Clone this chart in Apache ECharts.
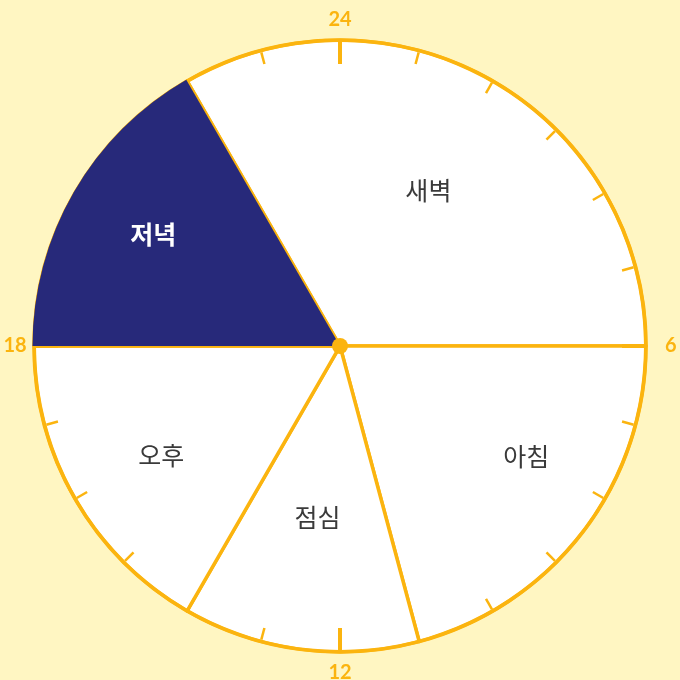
<!DOCTYPE html>
<html>
<head>
<meta charset="utf-8">
<script src="https://cdn.jsdelivr.net/npm/echarts@6/dist/echarts.min.js"></script>
<style>
html,body{margin:0;padding:0;background:#FFF6C2;}
#chart{width:680px;height:680px;}
</style>
</head>
<body>
<div id="chart"></div>
<script>
// Data
var periods = ['새벽', '아침', '점심', '오후', '저녁'];
var hours = [8, 5, 3, 4, 4];            // 22→6, 6→11, 11→14, 14→18, 18→22
var startHour = 22;
var clockMin = 0, clockMax = 24;
var clockLabels = ['', '6', '12', '18', '24'];

// Styles
var ORANGE = '#FBB40F';
var NAVY = '#27297A';
var highlightIndex = 4;
var labelShift = [[10, -20], [62, 15], [-2, 16], [-43, 31], [-51, -33]];
var CX = 340, CY = 346, R = 306;

var startAngle = 90 - startHour / clockMax * 360; // pie angle
var pieData = periods.map(function (n, i) { return { name: n, value: hours[i] }; });

var chart = echarts.init(document.getElementById('chart'));
chart.setOption({
  backgroundColor: '#FFF6C2',
  animation: false,
  series: [
    {
      type: 'pie', z: 1,
      center: [CX, CY], radius: [0, R],
      startAngle: startAngle, clockwise: true,
      label: { show: false }, labelLine: { show: false },
      silent: true,
      itemStyle: { color: '#FFFFFF', borderColor: ORANGE, borderWidth: 3.5 },
      data: pieData
    },
    {
      type: 'gauge', z: 2,
      center: [CX, CY], radius: R + 1.5,
      startAngle: 90, endAngle: -270,
      min: clockMin, max: clockMax, splitNumber: 4,
      axisLine: { show: true, lineStyle: { width: 3.5, color: [[1, ORANGE]] } },
      splitLine: { show: true, length: 22, distance: 0, lineStyle: { color: ORANGE, width: 4 } },
      axisTick: { show: true, splitNumber: 6, length: 12, distance: 0, lineStyle: { color: ORANGE, width: 2.5 } },
      axisLabel: {
        show: true, distance: -51, color: ORANGE, fontSize: 20, fontWeight: 'bold',
        fontFamily: 'Lato, "Noto Sans", sans-serif',
        formatter: function (v) { return clockLabels[Math.round(v / 6)]; }
      },
      pointer: { show: false }, anchor: { show: false },
      title: { show: false }, detail: { show: false },
      data: [{ value: 0 }]
    },
    {
      type: 'pie', z: 3,
      center: [CX, CY], radius: [0, R + 1.5],
      startAngle: startAngle, clockwise: true,
      silent: true,
      itemStyle: { color: 'rgba(0,0,0,0)', borderWidth: 0 },
      label: {
        show: true, position: 'inside', fontSize: 25, color: '#3a3a3a',
        fontFamily: '"Noto Sans CJK KR", sans-serif', fontWeight: 'normal'
      },
      labelLine: { show: false },
      labelLayout: function (p) {
        var s = labelShift[p.dataIndex];
        return { dx: s[0], dy: s[1] };
      },
      data: pieData.map(function (d, i) {
        if (i === highlightIndex) {
          return { name: d.name, value: d.value, itemStyle: { color: NAVY }, label: { color: '#FFFFFF', fontWeight: 'bold' } };
        }
        return d;
      })
    },
    {
      type: 'gauge', z: 4,
      center: [CX, CY], radius: R,
      startAngle: 90, endAngle: -270, min: clockMin, max: clockMax,
      axisLine: { show: false }, splitLine: { show: false }, axisTick: { show: false }, axisLabel: { show: false },
      pointer: { show: false },
      anchor: { show: true, size: 16, showAbove: true, itemStyle: { color: ORANGE } },
      title: { show: false }, detail: { show: false },
      data: [{ value: 0 }]
    }
  ]
});
</script>
</body>
</html>
